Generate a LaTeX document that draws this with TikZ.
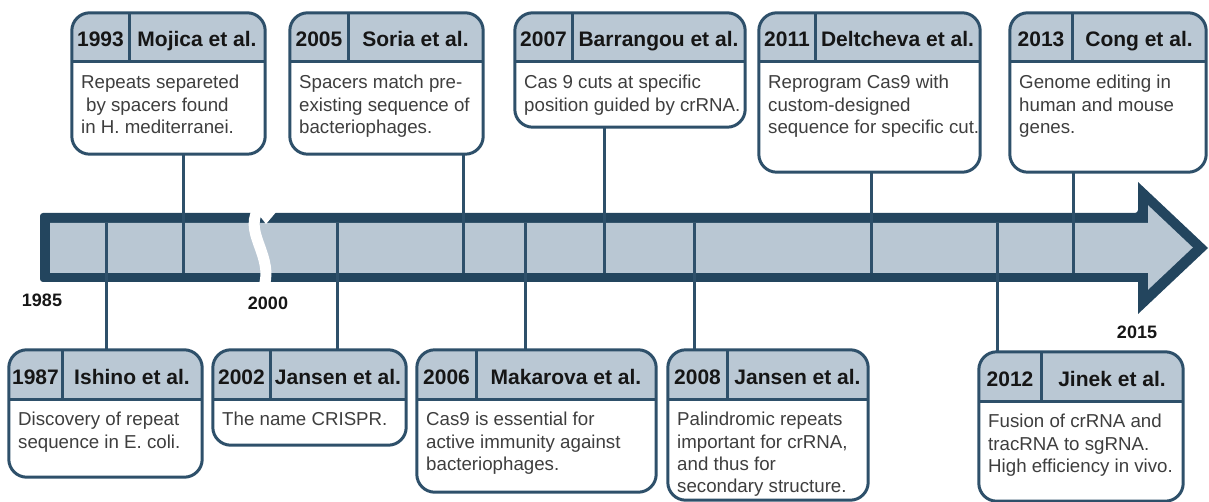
\documentclass[tikz,border=0pt]{standalone}
\usepackage{fontspec}
\setmainfont{Liberation Sans}
\definecolor{bardark}{RGB}{35,69,94}
\definecolor{barlight}{RGB}{185,199,211}
\definecolor{hdrfill}{RGB}{186,200,212}
\definecolor{boxline}{RGB}{46,80,106}
\definecolor{txtdark}{RGB}{22,22,22}
\definecolor{txtbody}{RGB}{62,62,62}
\tikzset{
  boxshape/.style={rectangle, fill=white, inner sep=0pt, rounded corners=18pt},
  boxborder/.style={draw=boxline, line width=3pt, rounded corners=18pt},
  boxrule/.style={draw=boxline, line width=3pt},
  conn/.style={draw=boxline, line width=3pt},
  hdrtext/.style={font=\fontsize{21}{25}\selectfont\bfseries, text=txtdark, anchor=base, inner sep=0pt},
  bodytext/.style={font=\fontsize{18.7}{22.3}\selectfont, text=txtbody, anchor=north west, inner sep=0pt, align=left},
  yearlabel/.style={font=\fontsize{18}{21}\selectfont\bfseries, text=txtdark, anchor=base, inner sep=0pt}
}
% #1 name, #2 x1, #3 y1, #4 x2, #5 y2, #6 xdiv, #7 year, #8 author, #9 body
\newcommand\tlbox[9]{%
  \node[boxshape, minimum width={#4-#2}, minimum height={#5-#3}] (#1) at ({(#2+#4)/2},{(#3+#5)/2}) {};
  \begin{scope}
    \clip[rounded corners=18pt] (#1.north west) rectangle (#1.south east);
    \fill[hdrfill] (#2,#3) rectangle (#4,#3+49);
  \end{scope}
  \draw[boxrule] (#2,#3+49) -- (#4,#3+49);
  \draw[boxrule] (#6,#3) -- (#6,#3+49);
  \draw[boxborder] (#1.north west) rectangle (#1.south east);
  \node[hdrtext] (#1-y) at ({(#2+#6)/2},#3+34) {#7};
  \node[hdrtext] (#1-a) at ({(#6+#4)/2},#3+34) {#8};
  \node[bodytext] (#1-t) at (#2+9,#3+62) {#9};
}
\begin{document}
\begin{tikzpicture}[x=1pt,y=-1pt]
\useasboundingbox (0,0) rectangle (1209,502);
% timeline arrow
\fill[bardark, rounded corners=3pt] (40,213) -- (1138,213) [sharp corners] -- (1138,182) -- (1208,248) -- (1138,314) -- (1138,282) [rounded corners=3pt] -- (40,282) -- cycle;
\fill[barlight] (50,223) -- (1148,223) -- (1148,205.2) -- (1192.8,247.5) -- (1148,289.8) -- (1148,273) -- (50,273) -- cycle;
% break
\draw[white, line width=11pt] (262,204) .. controls (238,232) and (278,255) .. (262,292);
\fill[white] (256,211) -- (277,211) -- (266,224) -- cycle;
% year labels
\node[yearlabel] (y1985) at (42,306.5) {1985};
\node[yearlabel] (y2000) at (268,310) {2000};
\node[yearlabel] (y2015) at (1137,338) {2015};
% top boxes
\tlbox{b93}{72}{13}{265}{154}{129}{1993}{Mojica et al.}{Repeats separeted\\\hspace*{5pt}by spacers found\\in H. mediterranei.}
\tlbox{b05}{290}{13}{483}{154}{348}{2005}{Soria et al.}{Spacers match pre-\\existing sequence of\\bacteriophages.}
\tlbox{b07}{515}{13}{745}{127}{572}{2007}{Barrangou et al.}{Cas 9 cuts at specific\\position guided by crRNA.}
\tlbox{b11}{759}{13}{980}{172}{815}{2011}{Deltcheva et al.}{Reprogram Cas9 with\\custom-designed\\sequence for specific cut.}
\tlbox{b13}{1010}{13}{1206}{172}{1072}{2013}{Cong et al.}{Genome editing in\\human and mouse\\genes.}
% bottom boxes
\tlbox{b87}{9}{350}{202}{477}{62}{1987}{Ishino et al.}{Discovery of repeat\\sequence in E. coli.}
\tlbox{b02}{213}{350}{406}{445}{270}{2002}{Jansen et al.}{The name CRISPR.}
\tlbox{b06}{417}{350}{656}{492}{476}{2006}{Makarova et al.}{Cas9 is essential for\\active immunity against\\bacteriophages.}
\tlbox{b08}{668}{350}{868}{500}{727}{2008}{Jansen et al.}{Palindromic repeats\\important for crRNA,\\and thus for\\secondary structure.}
\tlbox{b12}{979}{352}{1183}{501}{1041}{2012}{Jinek et al.}{Fusion of crRNA and\\tracRNA to sgRNA.\\High efficiency in vivo.}
% connector end points on the bar
\coordinate (k93) at (183,273);
\coordinate (k05) at (463,273);
\coordinate (k07) at (604,273);
\coordinate (k11) at (871,273);
\coordinate (k13) at (1073,273);
\coordinate (k87) at (106,223);
\coordinate (k02) at (337,223);
\coordinate (k06) at (525,223);
\coordinate (k08) at (694,223);
\coordinate (k12) at (997,223);
% connectors
\draw[conn] (b93.south -| k93) -- (k93);
\draw[conn] (b05.south -| k05) -- (k05);
\draw[conn] (b07.south -| k07) -- (k07);
\draw[conn] (b11.south -| k11) -- (k11);
\draw[conn] (b13.south -| k13) -- (k13);
\draw[conn] (k87) -- (k87 |- b87.north);
\draw[conn] (k02) -- (k02 |- b02.north);
\draw[conn] (k06) -- (k06 |- b06.north);
\draw[conn] (k08) -- (k08 |- b08.north);
\draw[conn] (k12) -- (k12 |- b12.north);
\end{tikzpicture}
\end{document}
